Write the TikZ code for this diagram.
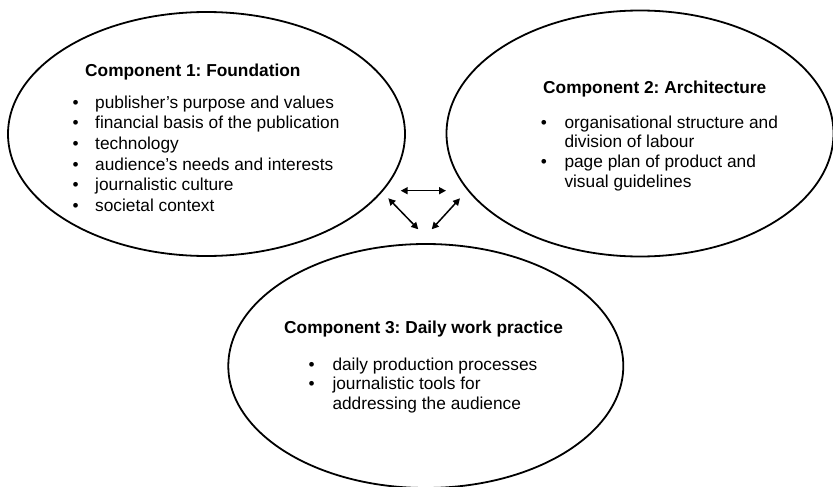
\documentclass[tikz,border=0pt]{standalone}
\usepackage{fontspec}
\setmainfont{Liberation Sans}
\usetikzlibrary{shapes.geometric,arrows.meta}
\frenchspacing
\begin{document}
\begin{tikzpicture}[x=1pt,y=-1pt,
  comp/.style={draw=black, line width=1.8pt, ellipse, inner sep=0pt},
  ttl/.style={anchor=base west, inner sep=0pt, font=\fontsize{17.3}{20.7}\selectfont\bfseries},
  itm/.style={anchor=base west, inner sep=0pt, font=\fontsize{17.3}{20.7}\selectfont},
  bul/.style={anchor=base, inner sep=0pt, font=\fontsize{17.3}{20.7}\selectfont},
  link/.style={line width=1.5pt, {Triangle[length=7pt,width=7pt]}-{Triangle[length=7pt,width=7pt]}}]
\useasboundingbox (0,0) rectangle (833,487);
\clip (0,0) rectangle (833,487);
% ellipses
\node[comp, minimum width=397pt, minimum height=244pt] (c1) at (206.5,134) {};
\node[comp, minimum width=387pt, minimum height=246pt] (c2) at (640,133.5) {};
\node[comp, minimum width=395pt, minimum height=244pt] (c3) at (425.8,366) {};
% component 1
\node[ttl] (t1) at (85,77) {Component 1: Foundation};
\foreach \txt [count=\i from 0] in {publisher’s purpose and values, financial basis of the publication, technology, audience’s needs and interests, journalistic culture, societal context} {
  \node[bul] (b1-\i) at (75.7,108+20.7*\i) {•};
  \node[itm] (i1-\i) at (95,108+20.7*\i) {\txt};
}
% component 2
\node[ttl] (t2) at (543,93.3) {Component 2: Architecture};
\node[bul] (b2-0) at (544,128.3) {•};
\node[itm] (i2-0) at (564.3,128.3) {organisational structure and};
\node[itm] (i2-1) at (564.3,147.9) {division of labour};
\node[bul] (b2-1) at (544,167.6) {•};
\node[itm] (i2-2) at (564.3,167.6) {page plan of product and};
\node[itm] (i2-3) at (564.3,187.0) {visual guidelines};
% component 3
\node[ttl] (t3) at (284,333.3) {Component 3: Daily work practice};
\node[bul] (b3-0) at (311.7,370) {•};
\node[itm] (i3-0) at (332.3,370) {daily production processes};
\node[bul] (b3-1) at (311.7,389.7) {•};
\node[itm] (i3-1) at (332.3,389.7) {journalistic tools for};
\node[itm] (i3-2) at (332.3,409.4) {addressing the audience};
% arrows
\coordinate (h1) at (400.7,190.7);
\coordinate (h2) at (446,190.7);
\coordinate (l1) at (388.3,198.3);
\coordinate (l2) at (418.3,229.3);
\coordinate (r1) at (460,198.3);
\coordinate (r2) at (431.7,229.3);
\draw[link] (h1) -- (h2);
\draw[link] (l1) -- (l2);
\draw[link] (r1) -- (r2);
\end{tikzpicture}
\end{document}
